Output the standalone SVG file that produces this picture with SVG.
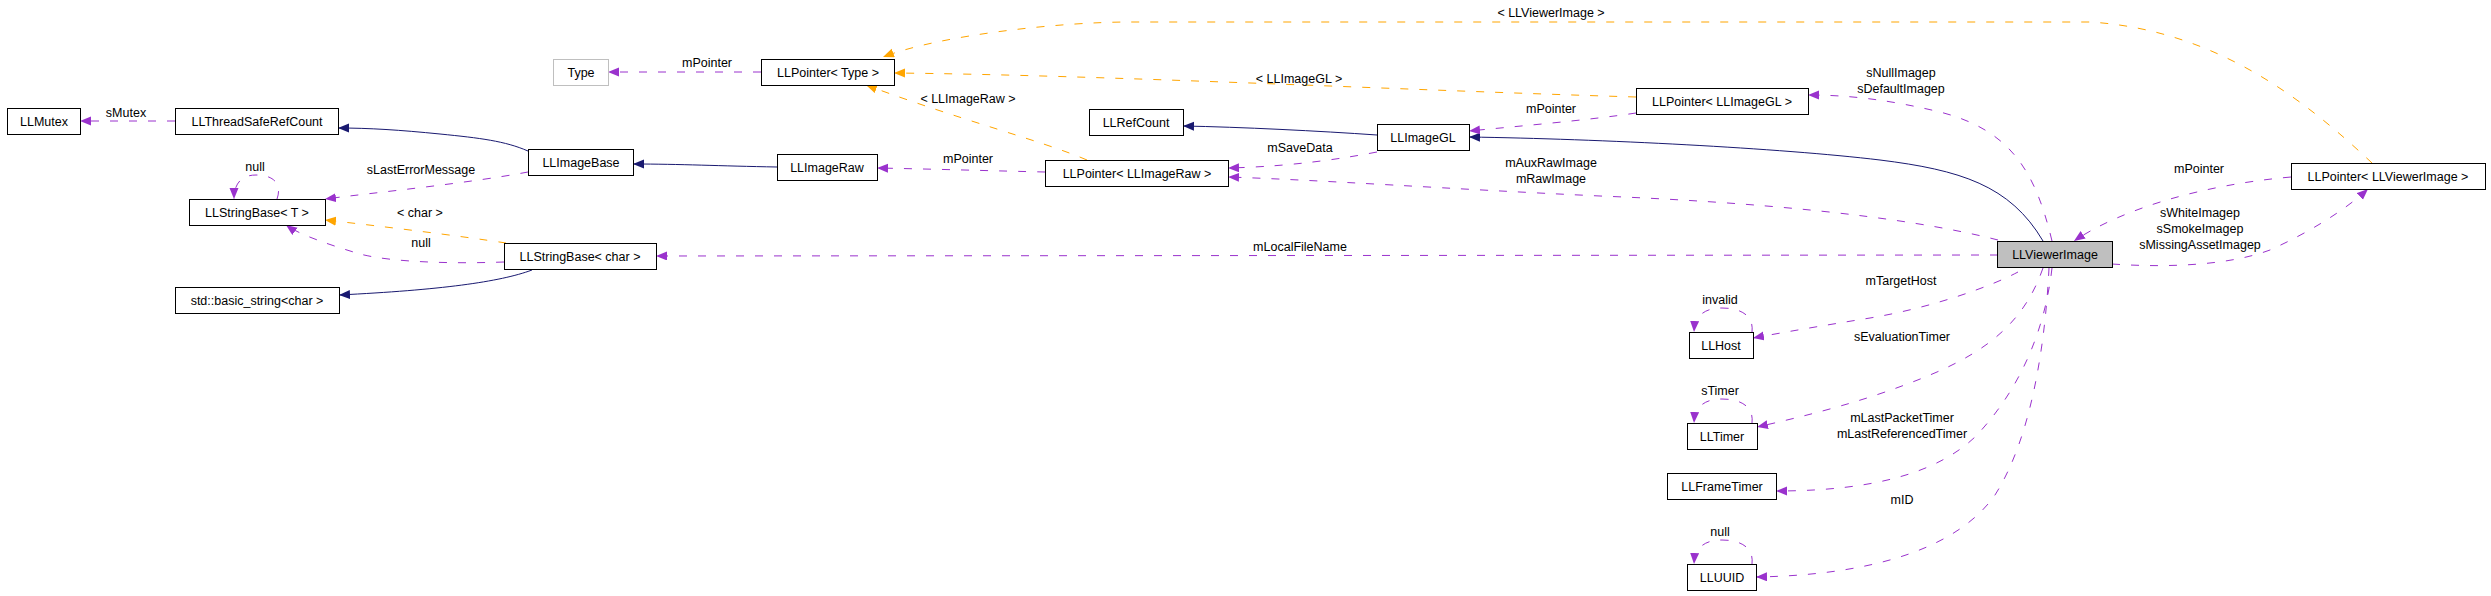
<svg xmlns="http://www.w3.org/2000/svg" width="2491" height="596" viewBox="0 0 2491 596">
<style>
text{font-family:"Liberation Sans",Arial,sans-serif;font-size:12.5px;fill:#000;text-anchor:middle}
.box{fill:#fff;stroke:#000;stroke-width:1}
.gray{fill:#fff;stroke:#bfbfbf;stroke-width:1}
.hl{fill:#bfbfbf;stroke:#000;stroke-width:1}
.inh{fill:none;stroke:#191970;stroke-width:1;marker-end:url(#an)}
.use{fill:none;stroke:#9a32cd;stroke-width:1;stroke-dasharray:8,11;marker-end:url(#ap)}
.tpl{fill:none;stroke:#ffa500;stroke-width:1;stroke-dasharray:8,11;marker-end:url(#ao)}
</style>
<defs>
<marker id="an" markerUnits="userSpaceOnUse" markerWidth="12" markerHeight="10" refX="11" refY="4.5" orient="auto"><path d="M0,0 L11,4.5 L0,9 z" fill="#191970"/></marker>
<marker id="ap" markerUnits="userSpaceOnUse" markerWidth="12" markerHeight="10" refX="11" refY="4.5" orient="auto"><path d="M0,0 L11,4.5 L0,9 z" fill="#9a32cd"/></marker>
<marker id="ao" markerUnits="userSpaceOnUse" markerWidth="12" markerHeight="10" refX="11" refY="4.5" orient="auto"><path d="M0,0 L11,4.5 L0,9 z" fill="#ffa500"/></marker>
</defs>
<rect width="2491" height="596" fill="#fff"/>
<g id="connectors">
<path class="inh" d="M528,151 C505,141 480,138 440,134 C400,130 370,128 338,128"/>
<path class="inh" d="M777,167 C720,166 680,164 633,164"/>
<path class="inh" d="M532,270 C500,282 440,290 339,295"/>
<path class="inh" d="M1377,135 C1320,131 1240,127 1183,126"/>
<path class="inh" d="M2043,241 C2010,185 1960,170 1880,160 C1780,148 1600,139 1469,137"/>
<path class="use" d="M175,121 L80,121"/>
<text x="126" y="117">sMutex</text>
<path class="use" d="M761,72 L608,72"/>
<text x="707" y="67">mPointer</text>
<path class="use" d="M528,172 C470,183 380,192 325,199"/>
<text x="421" y="174">sLastErrorMessage</text>
<path class="use" d="M277,199 C282,185 275,175 256,175 C242,175 234,183 234,199"/>
<text x="255" y="171">null</text>
<path class="tpl" d="M506,243 C460,236 380,226 325,220"/>
<text x="420" y="217">&lt; char &gt;</text>
<path class="use" d="M504,262 C450,264 390,262 360,254 C330,245 300,235 286,225"/>
<text x="421" y="247">null</text>
<path class="use" d="M1998,255 L656,256"/>
<text x="1300" y="251">mLocalFileName</text>
<path class="use" d="M1045,172 C1000,171 930,169 877,168"/>
<text x="968" y="163">mPointer</text>
<path class="use" d="M1377,152 C1320,163 1270,167 1228,168"/>
<text x="1300" y="152">mSaveData</text>
<path class="use" d="M1998,240 C1900,215 1750,202 1600,196 C1450,189 1320,180 1228,177"/>
<text x="1551" y="167">mAuxRawImage</text>
<text x="1551" y="183">mRawImage</text>
<path class="use" d="M1636,113 C1590,120 1520,126 1469,131"/>
<text x="1551" y="113">mPointer</text>
<path class="use" d="M2052,241 C2035,170 2010,130 1940,112 C1890,100 1850,95 1808,95"/>
<text x="1901" y="77">sNullImagep</text>
<text x="1901" y="93">sDefaultImagep</text>
<path class="use" d="M2291,177 C2200,185 2120,210 2074,241"/>
<text x="2199" y="173">mPointer</text>
<path class="use" d="M2112,264 C2170,268 2230,265 2270,250 C2310,232 2345,210 2368,189"/>
<text x="2200" y="217">sWhiteImagep</text>
<text x="2200" y="233">sSmokeImagep</text>
<text x="2200" y="249">sMissingAssetImagep</text>
<path class="use" d="M2018,272 C1990,287 1930,308 1870,318 C1820,326 1780,333 1753,338"/>
<text x="1901" y="285">mTargetHost</text>
<path class="use" d="M1752,332 C1754,315 1740,308 1722,308 C1705,308 1695,315 1694,332"/>
<text x="1720" y="304">invalid</text>
<path class="use" d="M2043,268 C2025,320 1990,350 1930,375 C1870,400 1810,415 1757,427"/>
<text x="1902" y="341">sEvaluationTimer</text>
<path class="use" d="M1752,423 C1754,406 1740,399 1722,399 C1705,399 1695,406 1694,423"/>
<text x="1720" y="395">sTimer</text>
<path class="use" d="M2052,268 C2045,330 2020,390 1975,437 C1940,470 1880,491 1776,491"/>
<text x="1902" y="422">mLastPacketTimer</text>
<text x="1902" y="438">mLastReferencedTimer</text>
<path class="use" d="M2049,268 C2045,350 2030,440 1995,495 C1960,545 1880,575 1756,577"/>
<text x="1902" y="504">mID</text>
<path class="use" d="M1752,564 C1754,547 1740,540 1722,540 C1705,540 1695,547 1694,564"/>
<text x="1720" y="536">null</text>
<path class="tpl" d="M2372,163 C2310,105 2220,30 2090,22 L1130,22 C1060,22 940,35 883,57"/>
<text x="1551" y="17">&lt; LLViewerImage &gt;</text>
<path class="tpl" d="M1636,97 C1400,90 1100,75 894,73"/>
<text x="1299" y="83">&lt; LLImageGL &gt;</text>
<path class="tpl" d="M1087,160 C1040,140 960,120 866,85"/>
<text x="968" y="103">&lt; LLImageRaw &gt;</text>
</g>
<g id="Type"><rect class="gray" x="553.5" y="59.5" width="55" height="26"/><text x="581" y="77">Type</text></g>
<g id="LLPointerType"><rect class="box" x="761.5" y="59.5" width="133" height="26"/><text x="828" y="77">LLPointer&lt; Type &gt;</text></g>
<g id="LLMutex"><rect class="box" x="7.5" y="108.5" width="73" height="26"/><text x="44" y="126">LLMutex</text></g>
<g id="LLThreadSafeRefCount"><rect class="box" x="175.5" y="108.5" width="163" height="26"/><text x="257" y="126">LLThreadSafeRefCount</text></g>
<g id="LLImageBase"><rect class="box" x="528.5" y="149.5" width="105" height="26"/><text x="581" y="167">LLImageBase</text></g>
<g id="LLImageRaw"><rect class="box" x="777.5" y="154.5" width="100" height="26"/><text x="827" y="172">LLImageRaw</text></g>
<g id="LLStringBaseT"><rect class="box" x="189.5" y="199.5" width="136" height="26"/><text x="257" y="217">LLStringBase&lt; T &gt;</text></g>
<g id="LLStringBaseChar"><rect class="box" x="504.5" y="243.5" width="152" height="26"/><text x="580" y="261">LLStringBase&lt; char &gt;</text></g>
<g id="stdBasicString"><rect class="box" x="175.5" y="287.5" width="164" height="26"/><text x="257" y="305">std::basic_string&lt;char &gt;</text></g>
<g id="LLRefCount"><rect class="box" x="1089.5" y="109.5" width="94" height="26"/><text x="1136" y="127">LLRefCount</text></g>
<g id="LLImageGL"><rect class="box" x="1377.5" y="124.5" width="92" height="26"/><text x="1423" y="142">LLImageGL</text></g>
<g id="LLPointerLLImageRaw"><rect class="box" x="1045.5" y="160.5" width="183" height="26"/><text x="1137" y="178">LLPointer&lt; LLImageRaw &gt;</text></g>
<g id="LLPointerLLImageGL"><rect class="box" x="1636.5" y="88.5" width="172" height="26"/><text x="1722" y="106">LLPointer&lt; LLImageGL &gt;</text></g>
<g id="LLViewerImage"><rect class="hl" x="1997.5" y="241.5" width="115" height="26"/><text x="2055" y="259">LLViewerImage</text></g>
<g id="LLPointerLLViewerImage"><rect class="box" x="2291.5" y="163.5" width="194" height="26"/><text x="2388" y="181">LLPointer&lt; LLViewerImage &gt;</text></g>
<g id="LLHost"><rect class="box" x="1689.5" y="332.5" width="64" height="26"/><text x="1721" y="350">LLHost</text></g>
<g id="LLTimer"><rect class="box" x="1687.5" y="423.5" width="70" height="26"/><text x="1722" y="441">LLTimer</text></g>
<g id="LLFrameTimer"><rect class="box" x="1667.5" y="473.5" width="109" height="26"/><text x="1722" y="491">LLFrameTimer</text></g>
<g id="LLUUID"><rect class="box" x="1687.5" y="564.5" width="69" height="26"/><text x="1722" y="582">LLUUID</text></g>
</svg>
